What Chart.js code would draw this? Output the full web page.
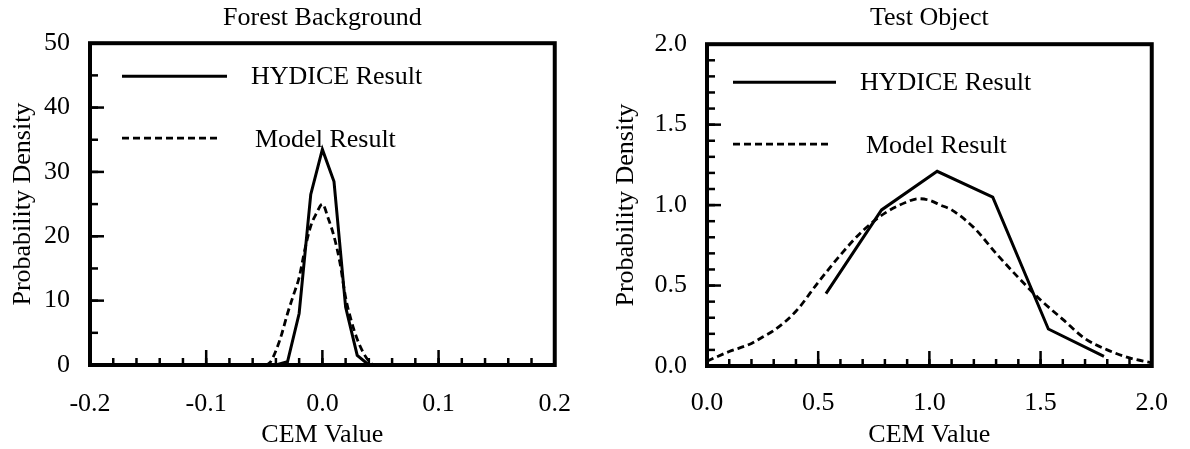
<!DOCTYPE html>
<html>
<head>
<meta charset="utf-8">
<script src="https://cdn.jsdelivr.net/npm/chart.js@4.4.0/dist/chart.umd.min.js"></script>
<style>
  html, body { margin: 0; padding: 0; background: #fff; }
  .panel { position: absolute; top: 0; width: 595px; height: 449px; }
  #left { left: 0; }
  #right { left: 595px; }
</style>
</head>
<body>
<div class="panel" id="left"><canvas id="forest"></canvas></div>
<div class="panel" id="right"><canvas id="test"></canvas></div>
<script>
// Forest Background
const forestHydiceX = [-0.2, -0.04, -0.03, -0.02, -0.01, 0.0, 0.01, 0.02, 0.03, 0.04, 0.2]
const forestHydiceY = [0, 0, 0.5, 8, 26.5, 33.5, 28.5, 9, 1.5, 0, 0]
const forestModelX = [-0.2, -0.05, -0.045, -0.04, -0.035, -0.03, -0.025, -0.02, -0.015, -0.01, -0.005, 0.0,
  0.005, 0.01, 0.015, 0.02, 0.025, 0.03, 0.035, 0.04, 0.045, 0.2]
const forestModelY = [0, 0, 0.4, 2.2, 4.8, 8.0, 10.8, 13.6, 18.0, 21.6, 23.6, 25.0,
  22.8, 20.0, 16.0, 10.5, 6.8, 4.0, 2.0, 0.6, 0, 0]
const forestXTicks = [-0.2, -0.1, 0, 0.1, 0.2]
const forestXLabels = ['-0.2', '-0.1', '0.0', '0.1', '0.2']
const forestYTicks = [0, 10, 20, 30, 40, 50]
const forestYLabels = ['0', '10', '20', '30', '40', '50']

// Test Object
const testHydiceX = [0.535, 0.785, 1.035, 1.285, 1.535, 1.785]
const testHydiceY = [0.45, 0.97, 1.21, 1.05, 0.23, 0.06]
const testModelX = [0.0, 0.1, 0.2, 0.25, 0.3, 0.4, 0.5, 0.6, 0.7, 0.8, 0.9, 0.95, 1.0, 1.05, 1.1,
  1.2, 1.3, 1.4, 1.5, 1.6, 1.7, 1.8, 1.9, 2.0]
const testModelY = [0.03, 0.09, 0.14, 0.18, 0.22, 0.34, 0.52, 0.69, 0.84, 0.95, 1.02, 1.04, 1.03, 1.0, 0.97,
  0.86, 0.70, 0.55, 0.41, 0.29, 0.17, 0.10, 0.05, 0.02]
const testXTicks = [0, 0.5, 1, 1.5, 2]
const testXLabels = ['0.0', '0.5', '1.0', '1.5', '2.0']
const testYTicks = [0, 0.5, 1, 1.5, 2]
const testYLabels = ['0.0', '0.5', '1.0', '1.5', '2.0']

const serif = '"Liberation Serif", "Times New Roman", serif'
const fontSize = 26

function steps(from, to, step) {
  const out = []
  for (let v = from; v <= to + step / 2; v += step) out.push(+v.toFixed(4))
  return out
}

// frame, inward ticks and the legend inside the plot
const frameTicks = {
  id: 'frameTicks',
  afterDatasetsDraw(chart, args, opts) {
    const { ctx, chartArea: a } = chart
    const x = chart.scales.x, y = chart.scales.y
    const seg = (x1, y1, x2, y2) => { ctx.beginPath(); ctx.moveTo(x1, y1); ctx.lineTo(x2, y2); ctx.stroke() }
    ctx.save()
    ctx.strokeStyle = '#000'
    ctx.lineWidth = 2.5
    opts.xMinor.forEach(v => { const p = x.getPixelForValue(v); seg(p, a.bottom, p, a.bottom - 7) })
    opts.xMajor.forEach(v => { const p = x.getPixelForValue(v); seg(p, a.bottom, p, a.bottom - 15) })
    opts.yMinor.forEach(v => { const p = y.getPixelForValue(v); seg(a.left, p, a.left + 8, p) })
    opts.yMajor.forEach(v => { const p = y.getPixelForValue(v); seg(a.left, p, a.left + 14, p) })
    ctx.lineWidth = 4
    ctx.strokeRect(a.left, a.top, a.right - a.left, a.bottom - a.top)

    ctx.font = fontSize + 'px ' + serif
    ctx.fillStyle = '#000'
    ctx.textBaseline = 'middle'
    ctx.textAlign = 'left'
    chart.data.datasets.forEach((ds, i) => {
      const L = opts.legend[i]
      ctx.lineWidth = ds.borderWidth
      ctx.setLineDash(ds.borderDash || [])
      seg(a.left + L.x0, a.top + L.y, a.left + L.x1, a.top + L.y)
      ctx.setLineDash([])
      ctx.fillText(ds.label, a.left + L.tx, a.top + L.ty)
    })
    ctx.restore()
  }
}

function pts(xs, ys) {
  return xs.map((v, i) => ({ x: v, y: ys[i] }))
}

function makeChart(id, p) {
  const font = { family: serif, size: fontSize }
  const titleFont = { family: serif, size: fontSize, lineHeight: 1.1 }
  return new Chart(document.getElementById(id), {
    type: 'line',
    data: {
      datasets: [
        { label: 'HYDICE Result', data: pts(p.hx, p.hy), borderColor: '#000', borderWidth: 3,
          pointRadius: 0, tension: 0, fill: false },
        { label: 'Model Result', data: pts(p.mx, p.my), borderColor: '#000', borderWidth: 2.8,
          borderDash: [7, 4], pointRadius: 0, cubicInterpolationMode: 'monotone', fill: false }
      ]
    },
    options: {
      responsive: true,
      maintainAspectRatio: false,
      animation: false,
      layout: { padding: { left: 0, right: p.padRight, top: 0, bottom: 0 } },
      plugins: {
        legend: { display: false },
        tooltip: { enabled: false },
        title: {
          display: true, text: p.title, fullSize: false, color: '#000',
          font: { family: serif, size: fontSize, weight: 'normal' },
          padding: { top: 3, bottom: p.titleGap }
        },
        frameTicks: {
          xMajor: p.xTicks, yMajor: p.yTicks,
          xMinor: steps(p.xTicks[0], p.xTicks[p.xTicks.length - 1], p.xMinorStep),
          yMinor: steps(p.yTicks[0], p.yTicks[p.yTicks.length - 1], p.yMinorStep),
          legend: p.legend
        }
      },
      scales: {
        x: {
          type: 'linear',
          min: p.xTicks[0], max: p.xTicks[p.xTicks.length - 1],
          afterBuildTicks: s => { s.ticks = p.xTicks.map(v => ({ value: v })) },
          afterFit: s => { s.height = p.xAxisHeight },
          grid: { display: false, drawTicks: false },
          border: { display: false },
          ticks: { color: '#000', font, padding: p.xLabelPad, maxRotation: 0, autoSkip: false,
            callback: (v, i) => p.xLabels[i] },
          title: { display: true, text: 'CEM Value', color: '#000', font: titleFont, padding: { top: 0, bottom: 0 } }
        },
        y: {
          min: p.yTicks[0], max: p.yTicks[p.yTicks.length - 1],
          afterBuildTicks: s => { s.ticks = p.yTicks.map(v => ({ value: v })) },
          afterFit: s => { s.width = p.yAxisWidth },
          grid: { display: false, drawTicks: false },
          border: { display: false },
          ticks: { color: '#000', font, padding: 20, autoSkip: false,
            callback: (v, i) => p.yLabels[i] },
          title: { display: true, text: 'Probability Density', color: '#000', font: titleFont,
            padding: { top: p.yTitlePad, bottom: 0 } }
        }
      }
    },
    plugins: [frameTicks]
  })
}

makeChart('forest', {
  title: 'Forest Background',
  hx: forestHydiceX, hy: forestHydiceY, mx: forestModelX, my: forestModelY,
  xTicks: forestXTicks, xLabels: forestXLabels, yTicks: forestYTicks, yLabels: forestYLabels,
  xMinorStep: 0.02, yMinorStep: 5,
  padRight: 40, titleGap: 9, xAxisHeight: 84, yAxisWidth: 90, xLabelPad: 24, yTitlePad: 9,
  legend: [
    { x0: 32, x1: 137, y: 33, tx: 161, ty: 34 },
    { x0: 32, x1: 129, y: 95, tx: 165, ty: 97 }
  ]
})

makeChart('test', {
  title: 'Test Object',
  hx: testHydiceX, hy: testHydiceY, mx: testModelX, my: testModelY,
  xTicks: testXTicks, xLabels: testXLabels, yTicks: testYTicks, yLabels: testYLabels,
  xMinorStep: 0.1, yMinorStep: 0.1,
  padRight: 26, titleGap: 10, xAxisHeight: 83, yAxisWidth: 112, xLabelPad: 22, yTitlePad: 17,
  legend: [
    { x0: 26, x1: 129, y: 38, tx: 153, ty: 39 },
    { x0: 26, x1: 122, y: 100, tx: 159, ty: 102 }
  ]
})
</script>
</body>
</html>
